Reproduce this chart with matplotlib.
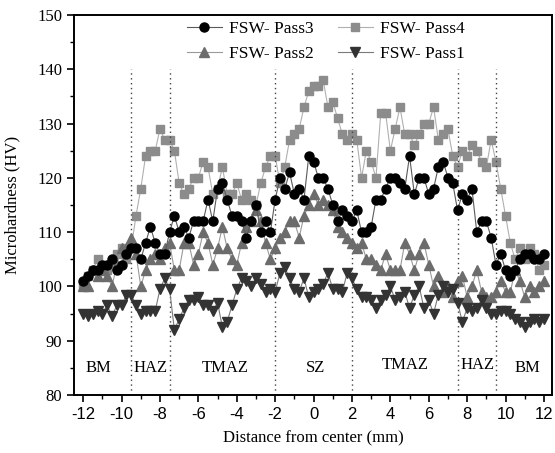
import numpy as np
import matplotlib
matplotlib.use("Agg")
import matplotlib.pyplot as plt
from matplotlib.ticker import MultipleLocator

plt.rcParams["axes.unicode_minus"] = False

# distance from weld centre (mm), 0.25 mm pitch
dist = np.arange(-12, 12.01, 0.25)

pass3 = [101, 102, 103, 103, 104, 104, 105, 103, 104, 106, 107, 107, 105, 108, 111, 108,
         106, 106, 110, 113, 110, 111, 109, 112, 112, 112, 116, 112, 118, 119, 116, 113,
         113, 112, 109, 112, 115, 110, 112, 110, 116, 120, 118, 121, 117, 118, 116, 124,
         123, 120, 120, 118, 115, 112, 114, 113, 112, 114, 110, 110, 111, 116, 116, 118,
         120, 120, 119, 118, 124, 117, 120, 120, 117, 118, 122, 123, 120, 119, 114, 117,
         116, 118, 110, 112, 112, 109, 104, 106, 103, 102, 103, 105, 106, 106, 105, 105, 106]

pass4 = [100, 102, 103, 105, 104, 103, 104, 106, 107, 105, 107, 113, 118, 124, 125, 125,
         129, 127, 127, 125, 119, 117, 118, 120, 120, 123, 122, 117, 118, 122, 117, 117,
         119, 116, 117, 116, 115, 119, 122, 124, 124, 119, 122, 127, 128, 129, 133, 136,
         137, 137, 138, 133, 134, 131, 128, 127, 128, 127, 120, 125, 123, 120, 132, 132,
         125, 129, 133, 128, 128, 126, 128, 130, 130, 133, 127, 128, 129, 124, 122, 125,
         124, 126, 125, 123, 122, 127, 123, 118, 113, 108, 105, 107, 105, 107, 106, 103, 104]

pass2 = [100, 100, 103, 102, 103, 102, 100, 104, 107, 107, 109, 106, 100, 103, 105, 106,
         105, 107, 108, 103, 103, 108, 108, 104, 106, 110, 108, 104, 107, 111, 107, 105,
         104, 108, 111, 112, 114, 112, 108, 105, 107, 109, 110, 112, 112, 109, 113, 115,
         117, 115, 116, 115, 114, 111, 110, 109, 108, 107, 108, 105, 105, 104, 103, 106,
         103, 103, 103, 108, 106, 103, 106, 108, 104, 100, 102, 99, 100, 98, 101, 102,
         98, 100, 103, 99, 98, 98, 99, 101, 99, 99, 103, 101, 98, 100, 99, 100, 101]

pass1 = [95, 94.5, 95, 95.5, 95, 96.5, 94.5, 96.5, 96.5, 98.5, 98.5, 96.5, 95, 95.5, 95.5, 95.5,
         99.5, 101.5, 99.5, 92, 94, 96, 97.5, 97.5, 98, 96.5, 96.5, 95.5, 97, 92.5, 93.5, 96.5,
         99.5, 101.5, 101, 100, 101.5, 100.5, 99, 99.5, 99, 102.5, 103.5, 101.5, 99.5, 99, 101.5, 98,
         99, 99.5, 100.5, 102.5, 99.5, 99.5, 99, 102.5, 101.5, 99.5, 98, 98, 97.5, 96, 97.5, 98.5,
         100, 97.5, 98, 99, 96, 98.5, 100, 96, 97.5, 95, 98.5, 100, 99, 99.5, 97, 93.5,
         96, 95.5, 96, 97.5, 96, 95, 95, 95.5, 95.5, 95, 94, 93.5, 92.5, 93.5, 94, 93.5, 94]

zone_bounds = [-9.5, -7.5, -2, 2, 7.5, 9.5]
zone_names = ["BM", "HAZ", "TMAZ", "SZ", "TMAZ", "HAZ", "BM"]
zone_x = [-11.2, -8.5, -4.6, 0.1, 4.8, 8.55, 11.15]
zone_y = [84.9, 84.9, 84.9, 84.9, 85.6, 85.6, 84.9]

serif = "Liberation Serif"
sans = "Liberation Sans"

fig = plt.figure(figsize=(5.55, 4.53), dpi=100)
ax = fig.add_axes([0.1333, 0.128, 0.8613, 0.839])

ax.plot(dist, pass3, "-o", color="#5a5a5a", lw=0.8, mfc="black", mec="black",
        ms=6.5, label="FSW- Pass3", zorder=4)
ax.plot(dist, pass2, "-^", color="#9a9a9a", lw=0.8, mfc="#6c6c6c", mec="#6c6c6c",
        ms=7.5, label="FSW- Pass2", zorder=3)
ax.plot(dist, pass4, "-s", color="#b0b0b0", lw=0.8, mfc="#8c8c8c", mec="#8c8c8c",
        ms=6.3, label="FSW- Pass4", zorder=2)
ax.plot(dist, pass1, "-v", color="#7a7a7a", lw=0.8, mfc="#333333", mec="#333333",
        ms=7.5, label="FSW- Pass1", zorder=3)

ax.vlines(zone_bounds, 80, 140, colors="#444444", linestyles=(0, (1, 2.5)), lw=1.0)
for name, zx, zy in zip(zone_names, zone_x, zone_y):
    ax.text(zx, zy, name, ha="center", va="center", fontsize=12, family=serif)

ax.set_xlim(-12.48, 12.42)
ax.set_ylim(80, 150)
ax.xaxis.set_major_locator(MultipleLocator(2))
ax.xaxis.set_minor_locator(MultipleLocator(1))
ax.yaxis.set_major_locator(MultipleLocator(10))
ax.yaxis.set_minor_locator(MultipleLocator(5))
ax.tick_params(which="major", direction="out", length=5, width=1.2)
ax.tick_params(which="minor", direction="out", length=3, width=1.0)
for lab in ax.get_xticklabels():
    lab.set_family(sans)
    lab.set_fontsize(12)
for lab in ax.get_yticklabels():
    lab.set_family(serif)
    lab.set_fontsize(12)
for sp in ax.spines.values():
    sp.set_linewidth(1.4)

ax.set_xlabel("Distance from center (mm)", family=serif, fontsize=12, labelpad=6)
ax.set_ylabel("Microhardness (HV)", family=serif, fontsize=12, labelpad=12)

ax.legend(ncol=2, loc="upper left", bbox_to_anchor=(0.204, 1.025), frameon=False,
          prop={"family": serif, "size": 12.5}, handlelength=2.0, columnspacing=1.4,
          labelspacing=0.5, handletextpad=0.4)

fig.savefig("out.png", dpi=100)
